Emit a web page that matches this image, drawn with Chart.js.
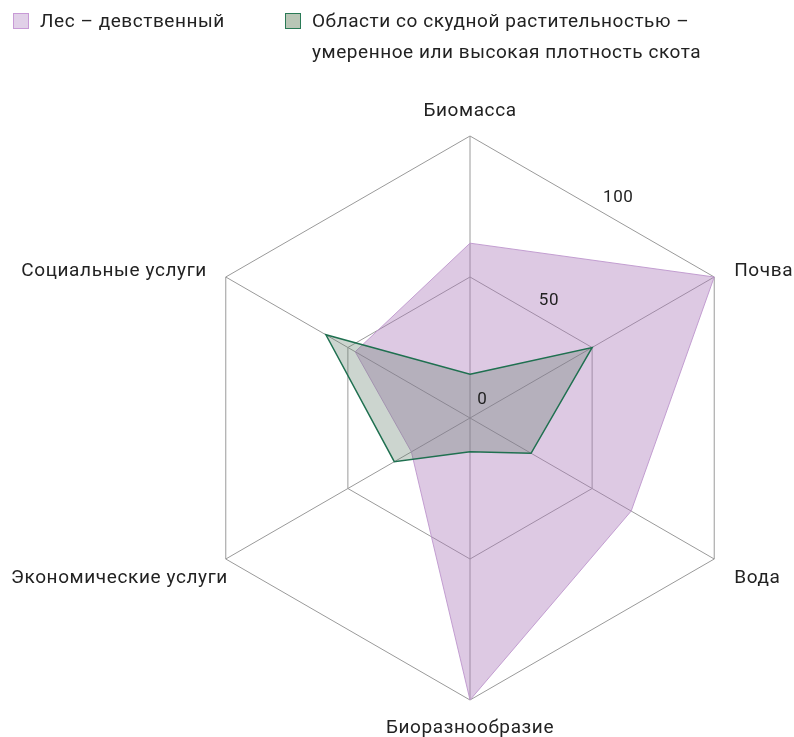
<!DOCTYPE html>
<html><head><meta charset="utf-8">
<script src="https://cdn.jsdelivr.net/npm/chart.js@4/dist/chart.umd.min.js"></script>
<style>
html,body{margin:0;padding:0;background:#fff;}
#wrap{position:relative;width:794px;height:737px;font-family:Roboto,"Noto Sans",sans-serif;color:#222;}
canvas{position:absolute;left:0;top:0;}
.leg{position:absolute;font-size:19px;line-height:31px;letter-spacing:0.55px;}
.box{position:absolute;width:14px;height:14px;border:1.5px solid;}
</style></head>
<body><div id="wrap">
<canvas id="c" width="794" height="737"></canvas>
<div class="box" id="b1" style="left:13px;top:13px;"></div>
<div class="leg" id="l1" style="left:40px;top:5px;"></div>
<div class="box" id="b2" style="left:285px;top:13px;"></div>
<div class="leg" id="l2" style="left:312px;top:5px;"></div>
</div>
<script>
const categories = ["Биомасса","Почва","Вода","Биоразнообразие","Экономические услуги","Социальные услуги"];
const seriesNames = ["Лес – девственный","Области со скудной растительностью –\nумеренное или высокая плотность скота"];
const forestValues = [62,100,66,100,24,47];
const grazingValues = [15.5,50,25,12,31,59];
const tickValues = [0,50,100];

const purpleFill = "rgba(170,120,185,0.40)";
const purpleLine = "rgba(190,150,205,0.9)";
const greenFill = "rgba(95,125,105,0.32)";
const greenLine = "#1f7050";

document.getElementById('b1').style.background = "#e1d0e8";
document.getElementById('b1').style.borderColor = "#c89ad6";
document.getElementById('b2').style.background = "#b9c6b6";
document.getElementById('b2').style.borderColor = "#2a7a56";
document.getElementById('l1').textContent = seriesNames[0];
document.getElementById('l2').innerHTML = seriesNames[1].split("\n").join("<br>");

const labelPlugin = {
  id:'customLabels',
  afterDraw(chart){
    const s = chart.scales.r, ctx = chart.ctx;
    ctx.save();
    ctx.fillStyle = "#222";
    ctx.font = "19px Roboto, 'Noto Sans', sans-serif";
    if ('letterSpacing' in ctx) ctx.letterSpacing = "0.6px";
    const r = s.drawingArea;
    categories.forEach((c,i)=>{
      let p;
      ctx.textBaseline = "middle";
      if(i===0){ p = s.getPointPosition(i, r+25); ctx.textAlign="center"; }
      else if(i===3){ p = s.getPointPosition(i, r+28); ctx.textAlign="center"; }
      else if(i===1||i===2){ p = s.getPointPosition(i, r); p = {x:p.x+20, y:p.y+(i===1?-6:19)}; ctx.textAlign="left"; }
      else { p = s.getPointPosition(i, r); p = {x:p.x+(i===5?-19:2), y:p.y+(i===5?-6:19)}; ctx.textAlign="right"; }
      ctx.fillText(c, p.x, p.y);
    });
    ctx.font = "17px Roboto, 'Noto Sans', sans-serif";
    ctx.textAlign = "center";
    const ang = 56*Math.PI/180;
    tickValues.forEach(v=>{
      const d = s.getDistanceFromCenterForValue(v);
      let dist = 0.88*d + 17;
      if(v===0) dist = 22;
      ctx.fillText(String(v), s.xCenter + dist*Math.cos(ang), s.yCenter - dist*Math.sin(ang));
    });
    ctx.restore();
  }
};

new Chart(document.getElementById('c'), {
  type:'radar',
  data:{
    labels:categories,
    datasets:[
      {label:seriesNames[0], data:forestValues, backgroundColor:purpleFill, borderColor:purpleLine, borderWidth:1, pointRadius:0, fill:true, order:1, tension:0},
      {label:seriesNames[1], data:grazingValues, backgroundColor:greenFill, borderColor:greenLine, borderWidth:1.5, pointRadius:0, fill:true, order:0, tension:0}
    ]
  },
  options:{
    responsive:false, animation:false,
    layout:{padding:{top:136,bottom:37,left:188,right:42}},
    plugins:{legend:{display:false}, tooltip:{enabled:false}},
    scales:{r:{
      min:0,max:100,
      ticks:{display:false, stepSize:50},
      pointLabels:{display:false},
      grid:{color:"#9a9a9a", lineWidth:1},
      angleLines:{color:"#9a9a9a", lineWidth:1}
    }}
  },
  plugins:[labelPlugin]
});
</script>
</body></html>
